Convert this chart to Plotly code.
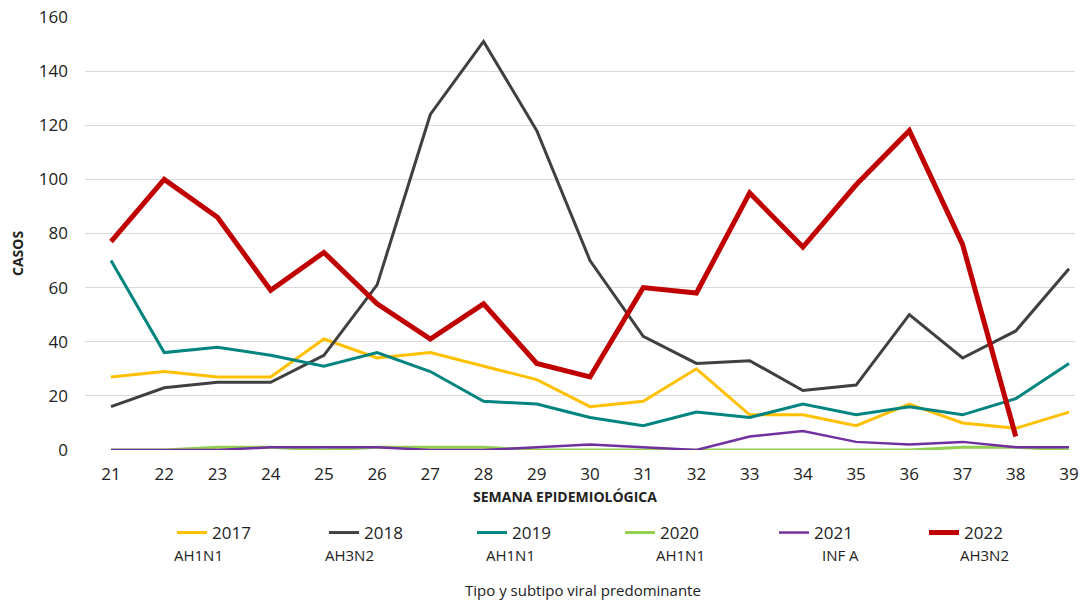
import plotly.graph_objects as go

weeks = list(range(21, 40))
years = ["2017", "2018", "2019", "2020", "2021", "2022"]
subtypes = ["AH1N1", "AH3N2", "AH1N1", "AH1N1", "INF A", "AH3N2"]

v2017 = [27, 29, 27, 27, 41, 34, 36, 31, 26, 16, 18, 30, 13, 13, 9, 17, 10, 8, 14]
v2018 = [16, 23, 25, 25, 35, 61, 124, 151, 118, 70, 42, 32, 33, 22, 24, 50, 34, 44, 67]
v2019 = [70, 36, 38, 35, 31, 36, 29, 18, 17, 12, 9, 14, 12, 17, 13, 16, 13, 19, 32]
v2020 = [0, 0, 1, 1, 0, 1, 1, 1, 0, 0, 0, 0, 0, 0, 0, 0, 1, 1, 0]
v2021 = [0, 0, 0, 1, 1, 1, 0, 0, 1, 2, 1, 0, 5, 7, 3, 2, 3, 1, 1]
v2022 = [77, 100, 86, 59, 73, 54, 41, 54, 32, 27, 60, 58, 95, 75, 98, 118, 76, 5, None]

series = [v2017, v2018, v2019, v2020, v2021, v2022]
colors = ["#FFC000", "#404040", "#00847F", "#92D050", "#7030A0", "#C00000"]
widths = [3, 3, 3, 3, 2.5, 5]

FONT = "Open Sans"
TXT = "#222222"

L, R, T, B = 85, 6, 17, 151
W, H = 1081, 601
pw = W - L - R
ph = H - T - B


def px_x(x):
    return (x - L) / pw


def px_y(y):
    return (H - B - y) / ph


# legend line-sample start positions (pixels) and subtype label positions
leg_x = [178, 330, 478, 626, 780, 930]
sub_x = [172, 323, 484, 654, 820, 958]

fig = go.Figure()
layout_legends = {}
for i, (name, vals, c, w) in enumerate(zip(years, series, colors, widths)):
    key = "legend" if i == 0 else f"legend{i + 1}"
    fig.add_trace(go.Scatter(x=weeks, y=vals, name=name, mode="lines",
                             line=dict(color=c, width=w), connectgaps=False,
                             legend=key))
    layout_legends[key] = dict(
        x=px_x(leg_x[i] - 6), y=px_y(533), xanchor="left", yanchor="middle",
        orientation="h", bgcolor="rgba(0,0,0,0)", borderwidth=0,
        font=dict(size=17, family=FONT, color=TXT), itemwidth=30)

for sx, st in zip(sub_x, subtypes):
    fig.add_annotation(text=st, x=px_x(sx), y=px_y(555), xref="paper", yref="paper",
                       showarrow=False, xanchor="left", yanchor="middle",
                       font=dict(size=15, color=TXT, family=FONT))

fig.add_annotation(text="Tipo y subtipo viral predominante",
                   x=px_x(583), y=px_y(590), xref="paper", yref="paper",
                   showarrow=False, xanchor="center", yanchor="middle",
                   font=dict(size=15, color=TXT, family=FONT))

fig.add_annotation(text="<b>SEMANA EPIDEMIOLÓGICA</b>",
                   x=px_x(565), y=px_y(496), xref="paper", yref="paper",
                   showarrow=False, xanchor="center", yanchor="middle",
                   font=dict(size=14, color=TXT, family=FONT))

fig.add_annotation(text="<b>CASOS</b>", textangle=-90,
                   x=px_x(18), y=px_y(254), xref="paper", yref="paper",
                   showarrow=False, xanchor="center", yanchor="middle",
                   font=dict(size=14, color=TXT, family=FONT))

fig.update_layout(
    width=W, height=H,
    margin=dict(l=L, r=R, t=T, b=B, autoexpand=False),
    plot_bgcolor="white", paper_bgcolor="white",
    font=dict(family=FONT, color=TXT, size=17),
    showlegend=True,
    xaxis=dict(range=[21 - 26 / 53.22, 39 + 6 / 53.22], tickmode="array",
               tickvals=weeks, ticktext=[str(w) for w in weeks],
               showgrid=False, zeroline=False, showline=False,
               ticks="", ticklabelstandoff=12, automargin=False,
               tickfont=dict(size=17)),
    yaxis=dict(range=[0, 160], tickvals=list(range(0, 161, 20)),
               showgrid=True, gridcolor="#D9D9D9", gridwidth=1,
               zeroline=False, showline=False, ticks="", automargin=False,
               ticklabelstandoff=16, tickfont=dict(size=17)),
    **layout_legends,
)

fig.write_html("out.html",
               config={"displayModeBar": False},
               post_script="document.body.style.margin='0px';"
                           "document.body.style.overflow='hidden';")
